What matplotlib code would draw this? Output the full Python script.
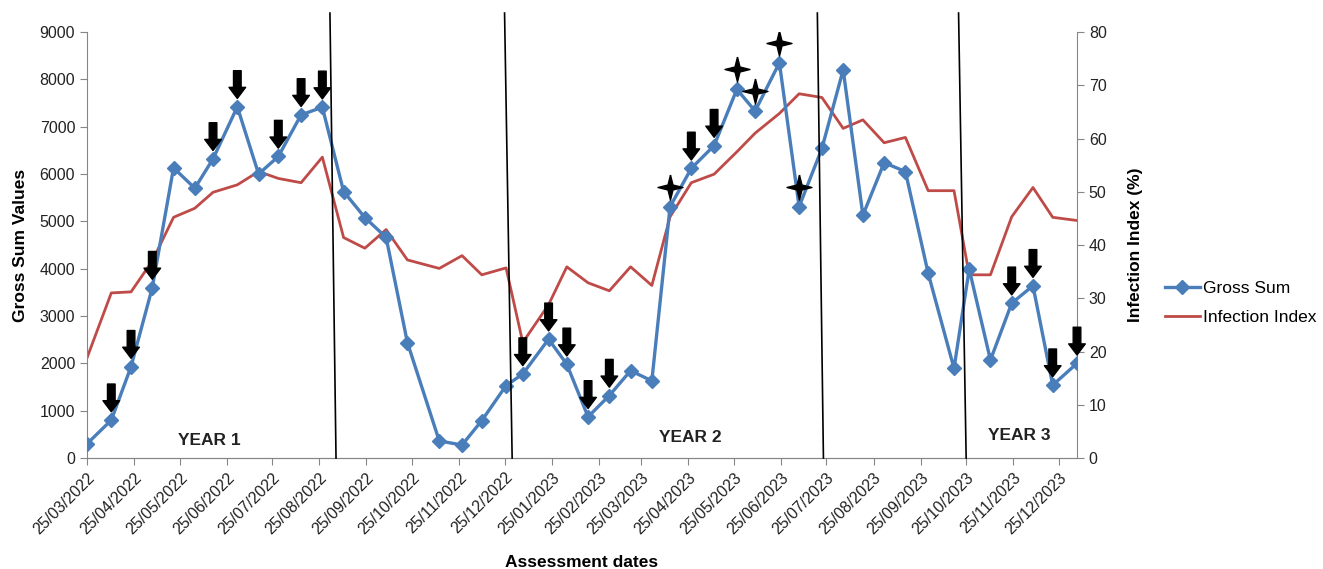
import matplotlib
matplotlib.use("Agg")
import matplotlib.pyplot as plt
import matplotlib.dates as mdates
import matplotlib.transforms as mtransforms
import numpy as np
import pandas as pd

plt.rcParams['font.family'] = ['Liberation Sans', 'DejaVu Sans']

# assessment dates (irregular, roughly fortnightly)
dates = ['2022-03-25', '2022-04-10', '2022-04-23', '2022-05-07', '2022-05-21',
         '2022-06-04', '2022-06-16', '2022-07-02', '2022-07-16', '2022-07-29',
         '2022-08-13', '2022-08-27', '2022-09-10', '2022-09-24', '2022-10-08',
         '2022-10-22', '2022-11-12', '2022-11-27', '2022-12-10', '2022-12-26',
         '2023-01-06', '2023-01-23', '2023-02-04', '2023-02-18', '2023-03-04',
         '2023-03-18', '2023-04-01', '2023-04-13', '2023-04-27', '2023-05-12',
         '2023-05-27', '2023-06-08', '2023-06-24', '2023-07-07', '2023-07-22',
         '2023-08-05', '2023-08-18', '2023-09-01', '2023-09-15', '2023-09-30',
         '2023-10-17', '2023-10-27', '2023-11-10', '2023-11-24', '2023-12-08',
         '2023-12-21', '2024-01-06']

gross_sum = [300, 800, 1930, 3600, 6130, 5700, 6320, 7420, 6000, 6370,
             7250, 7410, 5630, 5080, 4660, 2440, 360, 275, 790, 1530,
             1775, 2510, 1980, 870, 1320, 1845, 1630, 5310, 6120, 6600,
             7790, 7330, 8350, 5310, 6540, 8200, 5130, 6240, 6050, 3900,
             1895, 3990, 2070, 3270, 3640, 1540, 2000]

infection_index = [18.8, 31.0, 31.2, 37.0, 45.2, 46.9, 49.9, 51.3, 53.8, 52.5,
                   51.7, 56.5, 41.4, 39.4, 42.9, 37.2, 35.6, 38.0, 34.4, 35.7,
                   21.7, 28.8, 35.9, 32.9, 31.4, 35.9, 32.4, 45.3, 51.7, 53.3,
                   57.5, 61.0, 64.7, 68.4, 67.7, 61.9, 63.5, 59.2, 60.2, 50.2,
                   50.2, 34.4, 34.4, 45.3, 50.8, 45.2, 44.6]

# which points carry a down arrow and which a star
arrow_points = [1, 2, 3, 6, 7, 9, 10, 11, 20, 21, 22, 23, 24, 28, 29, 43, 44, 45, 46]
star_points = [27, 30, 31, 32, 33]

# hand drawn year dividers (bottom date, top date)
dividers = [('2022-09-05', '2022-09-01'), ('2022-12-30', '2022-12-25'),
            ('2023-07-23', '2023-07-19'), ('2023-10-25', '2023-10-20')]

year_labels = ['YEAR 1', 'YEAR 2', 'YEAR 3']
year_pos = [(0.124, 0.042), (0.609, 0.047), (0.942, 0.052)]

x = pd.to_datetime(dates)
blue = '#4A7EBB'
red = '#BE4B48'
grey = '#868686'

fig = plt.figure(figsize=(13.23, 5.69), dpi=100)
ax = fig.add_axes([87/1323, 1 - 458/569, 990/1323, 426/569])
ax2 = ax.twinx()

l1, = ax.plot(x, gross_sum, color=blue, lw=2.4, marker='D', markersize=7.5,
              label='Gross Sum', zorder=3)
l2, = ax2.plot(x, infection_index, color=red, lw=2.0, label='Infection Index', zorder=2)
ax.set_zorder(ax2.get_zorder() + 1)
ax.patch.set_visible(False)

ax.set_ylim(0, 9000)
ax.set_yticks(range(0, 9001, 1000))
ax2.set_ylim(0, 80)
ax2.set_yticks(range(0, 81, 10))
ax.set_xlim(x[0], x[-1])

# ticks on the 25th of every month
ticks = pd.date_range('2022-03-01', '2023-12-01', freq='MS') + pd.Timedelta(days=24)
ax.set_xticks(ticks)
ax.xaxis.set_major_formatter(mdates.DateFormatter('%d/%m/%Y'))
plt.setp(ax.get_xticklabels(), rotation=45, ha='right', rotation_mode='anchor')

for a in (ax, ax2):
    a.spines['top'].set_visible(False)
    for s in a.spines.values():
        s.set_color(grey)
    a.tick_params(direction='out', length=5, color=grey, labelsize=11.5, labelcolor='#222222')
ax.spines['right'].set_visible(False)
ax2.spines['left'].set_visible(False)

ax.set_ylabel('Gross Sum Values', fontsize=12.5, fontweight='bold')
ax.yaxis.set_label_coords(-0.06, 0.5)
ax.set_xlabel('Assessment dates', fontsize=12.5, fontweight='bold')
ax.xaxis.set_label_coords(0.5, -0.228)
ax2.set_ylabel('Infection Index (%)', fontsize=12.5, fontweight='bold')
ax2.yaxis.set_label_coords(1.052, 0.5)

# year divider lines
for bottom, top in dividers:
    ax.plot(pd.to_datetime([bottom, top]), [0, 9400], color='black', lw=1.2,
            clip_on=False, zorder=4)

for lab, (px, py) in zip(year_labels, year_pos):
    ax.text(px, py, lab, transform=ax.transAxes, ha='center', va='center',
            fontsize=12.5, fontweight='bold', color='#222222')

# arrows above selected points
for i in arrow_points:
    ax.annotate('', xy=(x[i], gross_sum[i]), xytext=(0, 26), textcoords='offset points',
                arrowprops=dict(arrowstyle='simple,head_length=0.8,head_width=1.2,tail_width=0.55',
                                fc='black', ec='black', shrinkA=0, shrinkB=6),
                zorder=5)

# four pointed stars
star = [(0, 1), (0.2, 0.2), (1, 0), (0.2, -0.2), (0, -1), (-0.2, -0.2),
        (-1, 0), (-0.2, 0.2), (0, 1)]
up = mtransforms.offset_copy(ax.transData, fig=fig, x=0, y=14.5, units='points')
ax.plot(x[star_points], np.array(gross_sum)[star_points], linestyle='none',
        marker=star, markersize=18, color='black', transform=up, zorder=5)

fig.legend([l1, l2], ['Gross Sum', 'Infection Index'], loc='center left',
           bbox_to_anchor=(1165/1323, 1 - 303/569), frameon=False, fontsize=12.5,
           handlelength=2.0, handletextpad=0.2, labelspacing=0.75, borderpad=0,
           borderaxespad=0)

fig.savefig('out.png', dpi=100)
